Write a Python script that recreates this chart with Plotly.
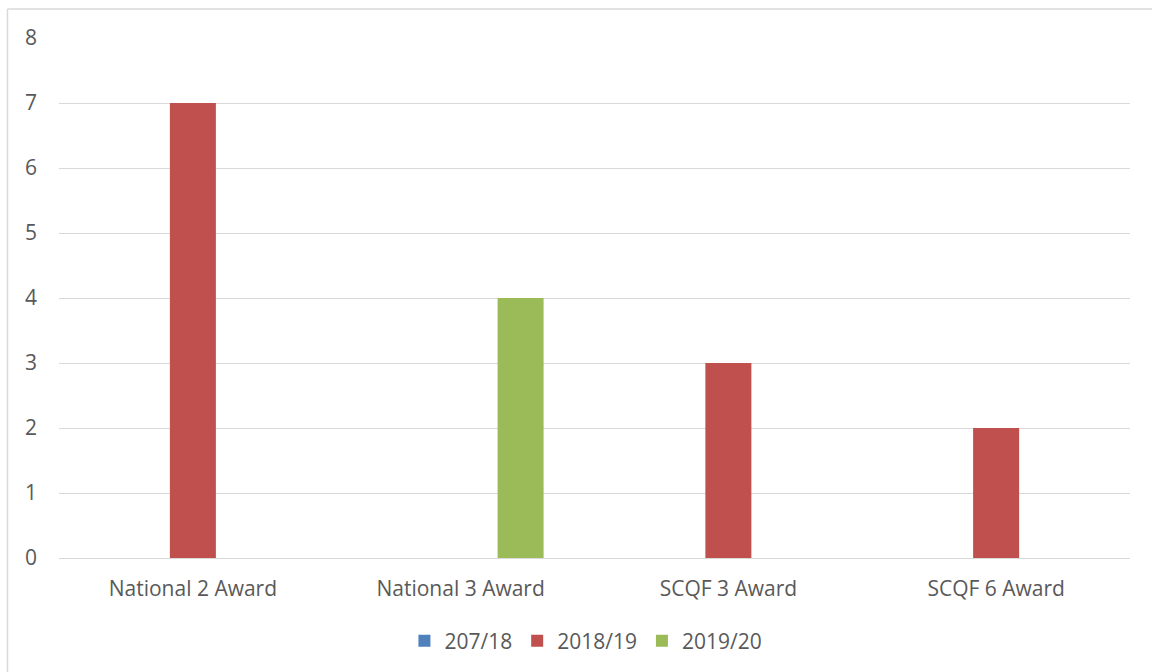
import plotly.graph_objects as go

categories = ["National 2 Award", "National 3 Award", "SCQF 3 Award", "SCQF 6 Award"]
series_names = ["207/18", "2018/19", "2019/20"]
values_2017 = [0, 0, 0, 0]
values_2018 = [7, 0, 3, 2]
values_2019 = [0, 4, 0, 0]
colors = ["#4F81BD", "#C0504D", "#9BBB59"]
y_ticks = [0, 1, 2, 3, 4, 5, 6, 7, 8]

fig = go.Figure()
for name, vals, col in zip(series_names, [values_2017, values_2018, values_2019], colors):
    fig.add_trace(go.Bar(x=categories, y=vals, name=name, marker_color=col,
                         marker_line_width=0))

font_family = "Open Sans, Liberation Sans, sans-serif"
L, R, T, B = 59, 22, 38, 114
W, H = 1152, 672
pw, ph = W - L - R, H - T - B
bx = (7.5 - L) / pw
by = 1 + (T - 9) / ph

fig.update_layout(
    width=W, height=H,
    paper_bgcolor="white", plot_bgcolor="white",
    margin=dict(l=L, r=R, t=T, b=B, autoexpand=False),
    barmode="group", bargap=0.328, bargroupgap=0.233,
    font=dict(family=font_family, size=21, color="#595959"),
    showlegend=True,
    legend=dict(orientation="h", x=0.492, xanchor="center", yref="container",
                y=(H - 641) / H, yanchor="middle",
                font=dict(size=21, color="#595959"), itemwidth=30,
                traceorder="normal"),
    xaxis=dict(showgrid=False, showline=False, ticks="", tickfont=dict(size=21),
               ticklabelstandoff=16),
    yaxis=dict(range=[0, 8], tickvals=y_ticks, showgrid=True, gridcolor="#D9D9D9",
               gridwidth=1, zeroline=True, zerolinecolor="#D9D9D9", zerolinewidth=1,
               showline=False, ticks="", tickfont=dict(size=21), ticklabelstandoff=21),
    shapes=[
        dict(type="line", xref="paper", yref="paper", x0=bx, x1=bx, y0=-0.4, y1=by,
             line=dict(color="#D9D9D9", width=1.5)),
        dict(type="line", xref="paper", yref="paper", x0=bx, x1=1.1, y0=by, y1=by,
             line=dict(color="#D9D9D9", width=1.5)),
    ],
)
fig.write_html(
    "out.html",
    config={"displayModeBar": False},
    post_script="document.body.style.margin='0';document.documentElement.style.overflow='hidden';",
)
